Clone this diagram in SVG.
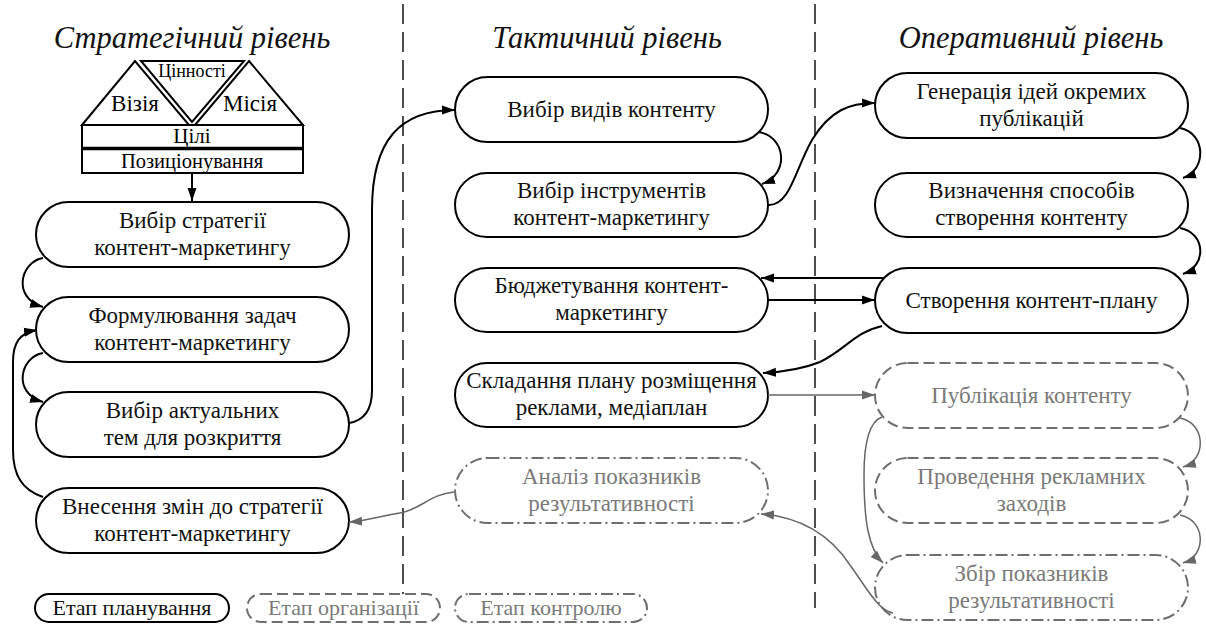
<svg xmlns="http://www.w3.org/2000/svg" width="1206" height="630" viewBox="0 0 1206 630">
  <defs>
    <marker id="arr" markerUnits="userSpaceOnUse" markerWidth="14" markerHeight="10" refX="13" refY="5" orient="auto">
      <path d="M0,0.5 L13,5 L0,9.5 z" fill="#000"/>
    </marker>
    <marker id="arrGray" markerUnits="userSpaceOnUse" markerWidth="14" markerHeight="10" refX="13" refY="5" orient="auto">
      <path d="M0,0.5 L13,5 L0,9.5 z" fill="#666"/>
    </marker>
    <style>
      text { font-family: 'Liberation Serif', 'Tinos', 'DejaVu Serif', serif; text-anchor: middle; }
      .title { font-size: 30.5px; font-style: italic; fill: #111; }
      .lbl { font-size: 23px; fill: #111; }
      .lblGray { font-size: 23px; fill: #7a7a7a; }
      .plan { fill: #fff; stroke: #000; stroke-width: 2; }
      .org { fill: #fff; stroke: #6e6e6e; stroke-width: 2; stroke-dasharray: 11 5; }
      .ctl { fill: #fff; stroke: #6e6e6e; stroke-width: 2; stroke-dasharray: 12 4 2 4; }
      .sep { stroke: #222; stroke-width: 1.6; stroke-dasharray: 20 8; fill: none; }
      .link { fill: none; stroke: #000; stroke-width: 2; marker-end: url(#arr); }
      .linkGray { fill: none; stroke: #666; stroke-width: 1.5; marker-end: url(#arrGray); }
      .pyr { fill: #fff; stroke: #000; stroke-width: 2; }
    </style>
  </defs>

  <rect width="1206" height="630" fill="#fff"/>

  <!-- level separators -->
  <g id="separators">
    <line class="sep" x1="403" y1="4" x2="403" y2="608"/>
    <line class="sep" x1="815" y1="4" x2="815" y2="608"/>
  </g>

  <g font-family="Liberation Serif, serif">
  <!-- level headings -->
  <g id="headings">
    <text class="title" x="192" y="48">Стратегічний рівень</text>
    <text class="title" x="607" y="48">Тактичний рівень</text>
    <text class="title" x="1031" y="48">Оперативний рівень</text>
  </g>

  <!-- strategy house: vision, values, mission, goals, positioning -->
  <g id="strategy-house">
    <polygon class="pyr" points="82,125 135,61 189,125"/>
    <polygon class="pyr" points="141,61 244,61 192,122"/>
    <polygon class="pyr" points="195,125 249,61 303,125"/>
    <rect class="pyr" x="82" y="125" width="221" height="48"/>
    <line x1="82" y1="148.5" x2="303" y2="148.5" stroke="#000" stroke-width="3.5"/>
    <text x="192" y="77" style="font-size:18px">Цінності</text>
    <text x="135" y="111" style="font-size:23px">Візія</text>
    <text x="250" y="111" style="font-size:23px">Місія</text>
    <text x="192" y="143" style="font-size:21px">Цілі</text>
    <text x="192" y="168" style="font-size:20.5px">Позиціонування</text>
  </g>

  <!-- strategic level -->
  <g id="node-strategy-choice">
    <rect class="plan" x="36" y="202" width="313" height="65" rx="32.5"/>
    <text class="lbl" x="192.5" y="228">Вибір стратегії</text>
    <text class="lbl" x="192.5" y="255">контент-маркетингу</text>
  </g>
  <g id="node-tasks">
    <rect class="plan" x="36" y="297" width="313" height="65" rx="32.5"/>
    <text class="lbl" x="192.5" y="323">Формулювання задач</text>
    <text class="lbl" x="192.5" y="350">контент-маркетингу</text>
  </g>
  <g id="node-topics">
    <rect class="plan" x="36" y="392" width="313" height="65" rx="32.5"/>
    <text class="lbl" x="192.5" y="418">Вибір актуальних</text>
    <text class="lbl" x="192.5" y="445">тем для розкриття</text>
  </g>
  <g id="node-strategy-update">
    <rect class="plan" x="36" y="488" width="313" height="65" rx="32.5"/>
    <text class="lbl" x="192.5" y="514">Внесення змін до стратегії</text>
    <text class="lbl" x="192.5" y="541">контент-маркетингу</text>
  </g>

  <!-- tactical level -->
  <g id="node-content-types">
    <rect class="plan" x="455" y="77" width="313" height="65" rx="32.5"/>
    <text class="lbl" x="611.5" y="117">Вибір видів контенту</text>
  </g>
  <g id="node-tools">
    <rect class="plan" x="455" y="173" width="313" height="64" rx="32"/>
    <text class="lbl" x="611.5" y="198">Вибір інструментів</text>
    <text class="lbl" x="611.5" y="225">контент-маркетингу</text>
  </g>
  <g id="node-budget">
    <rect class="plan" x="455" y="268" width="313" height="64" rx="32"/>
    <text class="lbl" x="611.5" y="293">Бюджетування контент-</text>
    <text class="lbl" x="611.5" y="320">маркетингу</text>
  </g>
  <g id="node-media-plan">
    <rect class="plan" x="455" y="363" width="313" height="64" rx="32"/>
    <text class="lbl" x="611.5" y="388">Складання плану розміщення</text>
    <text class="lbl" x="611.5" y="415">реклами, медіаплан</text>
  </g>
  <g id="node-analysis">
    <rect class="ctl" x="455" y="458" width="313" height="65" rx="32.5"/>
    <text class="lblGray" x="611.5" y="484">Аналіз показників</text>
    <text class="lblGray" x="611.5" y="511">результативності</text>
  </g>

  <!-- operational level -->
  <g id="node-ideas">
    <rect class="plan" x="875" y="73" width="313" height="65" rx="32.5"/>
    <text class="lbl" x="1031.5" y="99">Генерація ідей окремих</text>
    <text class="lbl" x="1031.5" y="126">публікацій</text>
  </g>
  <g id="node-creation-methods">
    <rect class="plan" x="875" y="173" width="313" height="64" rx="32"/>
    <text class="lbl" x="1031.5" y="198">Визначення способів</text>
    <text class="lbl" x="1031.5" y="225">створення контенту</text>
  </g>
  <g id="node-content-plan">
    <rect class="plan" x="875" y="268" width="313" height="65" rx="32.5"/>
    <text class="lbl" x="1031.5" y="308">Створення контент-плану</text>
  </g>
  <g id="node-publication">
    <rect class="org" x="875" y="363" width="313" height="65" rx="32.5"/>
    <text class="lblGray" x="1031.5" y="403">Публікація контенту</text>
  </g>
  <g id="node-ads">
    <rect class="org" x="875" y="458" width="313" height="65" rx="32.5"/>
    <text class="lblGray" x="1031.5" y="484">Проведення рекламних</text>
    <text class="lblGray" x="1031.5" y="511">заходів</text>
  </g>
  <g id="node-metrics">
    <rect class="ctl" x="875" y="555" width="313" height="65" rx="32.5"/>
    <text class="lblGray" x="1031.5" y="581">Збір показників</text>
    <text class="lblGray" x="1031.5" y="608">результативності</text>
  </g>

  <!-- stage legend -->
  <g id="legend-planning">
    <rect class="plan" x="35" y="594" width="194" height="28" rx="14"/>
    <text x="132" y="615" style="font-size:22px;fill:#111">Етап планування</text>
  </g>
  <g id="legend-organization">
    <rect class="org" x="247" y="594" width="193" height="28" rx="14"/>
    <text x="343.5" y="615" style="font-size:22px;fill:#7a7a7a">Етап організації</text>
  </g>
  <g id="legend-control">
    <rect class="ctl" x="455" y="594" width="192" height="28" rx="14"/>
    <text x="551" y="615" style="font-size:22px;fill:#7a7a7a">Етап контролю</text>
  </g>
  </g>

  <!-- connectors -->
  <g id="connectors">
    <path class="link" d="M192,173 L192,201"/>
    <path class="link" d="M43,258 C20,262 12,298 43,307"/>
    <path class="link" d="M43,353 C20,357 12,393 43,402"/>
    <path class="link" d="M43,497 C22,490 13,475 13,450 L13,362 C13,342 20,333 37,330"/>
    <path class="link" d="M349,423 C368,420 372,405 372,390 L372,210 C372,140 400,110 455,110"/>
    <path class="link" d="M758,132 C786,136 790,174 762,184"/>
    <path class="link" d="M769,205 C790,205 795,170 812,140 C830,110 850,103 875,103"/>
    <path class="link" d="M1180,128 C1206,133 1207,170 1183,178"/>
    <path class="link" d="M1180,228 C1206,233 1207,266 1183,274"/>
    <path class="link" d="M884,278 L761,278"/>
    <path class="link" d="M768,300 L875,300"/>
    <path class="link" d="M882,326 C855,332 845,350 820,362 C800,370 782,372 763,373"/>
    <path class="linkGray" d="M768,395 L875,395"/>
    <path class="linkGray" d="M1180,418 C1206,423 1207,460 1183,467"/>
    <path class="linkGray" d="M1180,515 C1206,520 1207,556 1183,563"/>
    <path class="linkGray" d="M882,417 C868,422 864,445 864,475 C864,520 868,548 883,563"/>
    <path class="linkGray" d="M893,613 C878,610 868,590 850,565 C830,535 800,517 761,514"/>
    <path class="linkGray" d="M454,492 C430,494 420,510 400,513 C380,516 365,521 349,522"/>
  </g>
</svg>
